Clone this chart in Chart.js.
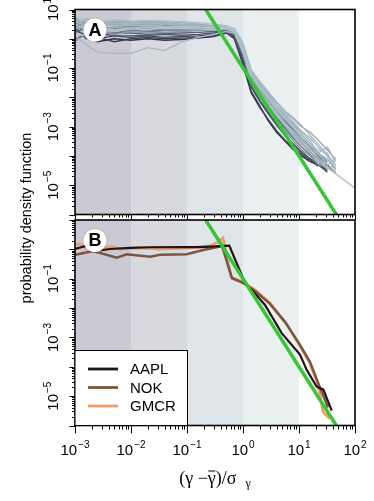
<!DOCTYPE html>
<html>
<head>
<meta charset="utf-8">
<script src="https://cdn.jsdelivr.net/npm/chart.js@4"></script>
<style>
  html, body { margin: 0; padding: 0; background: #fff; }
  #wrap { position: relative; width: 374px; height: 501px; }
  #wrap canvas { position: absolute; left: 0; top: 0; }
</style>
</head>
<body>
<div id="wrap">
  <canvas id="panelA" width="374" height="501"></canvas>
  <canvas id="panelB" width="374" height="501"></canvas>
</div>
<script>
/* Two stacked log-log density panels. Each panel is its own Chart on a
   full-size transparent canvas; the layout padding puts the plot box where
   the figure has it, and a small plugin draws the R-style frame, ticks and
   10^n labels (Chart.js can't do superscripts or per-tick lengths). */

// ---- shared axes / decoration data ----
var bandEdges = [1e-3, 1e-2, 1e-1, 1, 10, 100];
var bandColors = ["#cbc9d4", "#d8d9df", "#dfe5e8", "#ebf1f1", "#ffffff"];
var xTickExps = [-3, -2, -1, 0, 1, 2];
var yTickExpsA = [1, -1, -3, -5];
var yTickExpsB = [-1, -3, -5];

// power-law guide (green)
var fitX = [0.2, 50];
var fitY = [12.5, 8e-7];

// ---- panel A: many stocks, binned on a common grid ----
var binsA = [0.001, 0.0016, 0.0025, 0.005, 0.01, 0.02, 0.04, 0.08, 0.16, 0.3, 0.5, 0.7,
             1.0, 1.4, 2.0, 2.8, 4.0, 5.6, 8.0, 11, 16, 22, 32, 45, 100];

var stockA01 = [2.0, 1.26, 0.79, 1.0, 0.89, 1.0, 0.89, 0.95, 1.05, 1.2, 1.58, 1.12, 0.16, 0.016, 5e-3, 1.6e-3, 6.3e-4, 3.2e-4, 1.6e-4, 1e-4, 6.3e-5, 5e-5, 3.2e-5, null, null];
var stockA02 = [1.0, 1.41, 1.12, 0.79, 1.0, 1.12, 1.0, 1.05, 1.12, 1.26, 1.66, 1.0, 0.126, 0.014, 4.5e-3, 1.8e-3, 7.1e-4, 3.5e-4, 1.8e-4, 1.12e-4, 7.1e-5, 4.5e-5, null, null, null];
var stockA03 = [3.98, 1.58, 1.0, 1.26, 1.12, 1.26, 1.12, 1.2, 1.26, 1.41, 1.91, 1.26, 0.25, 0.025, 7.9e-3, 3.2e-3, 1.26e-3, 5e-4, 2.5e-4, 1.26e-4, 7.9e-5, 5e-5, null, null, null];
var stockA04 = [2.51, 1.0, 1.58, 1.26, 1.26, 1.32, 1.41, 1.32, 1.41, 1.58, 2.0, 1.32, 0.2, 0.022, 7.1e-3, 2.8e-3, 1.12e-3, 5e-4, 2.5e-4, 1.4e-4, 7.9e-5, 5e-5, 2.8e-5, null, null];
var stockA05 = [1.58, 2.51, 1.26, 1.58, 1.58, 1.41, 1.51, 1.58, 1.66, 1.78, 2.0, 1.41, 0.32, 0.04, 0.0126, 5e-3, 2e-3, 1e-3, 5e-4, 2.5e-4, 1.26e-4, 6.3e-5, 3.2e-5, null, null];
var stockA06 = [3.16, 2.0, 2.82, 2.0, 2.24, 2.0, 2.0, 2.09, 2.0, 2.0, 2.24, 1.58, 0.4, 0.05, 0.02, 7.9e-3, 3.2e-3, 1.6e-3, 7.9e-4, 4e-4, 2e-4, 1e-4, 5e-5, 2.5e-5, null];
var stockA07 = [2.82, 1.78, 2.51, 1.58, 2.0, 1.78, 1.91, 2.0, 2.0, 2.0, 2.14, 1.51, 0.28, 0.035, 0.0112, 4.5e-3, 2e-3, 8.9e-4, 4e-4, 2e-4, 1.12e-4, 6.3e-5, 4.5e-5, null, null];
var stockA08 = [2.51, 3.55, 2.0, 2.51, 2.63, 2.51, 2.82, 2.63, 2.51, 2.4, 2.24, 1.58, 0.5, 0.063, 0.025, 0.01, 4e-3, 2e-3, 1e-3, 5e-4, 2.5e-4, 1.26e-4, 6.3e-5, null, null];
var stockA09 = [5.01, 2.51, 1.58, 2.24, 2.0, 2.24, 2.0, 2.0, 2.24, 2.09, 2.4, 1.78, 0.32, 0.032, 0.01, 4e-3, 1.6e-3, 7.9e-4, 3.2e-4, 1.6e-4, 1e-4, 5e-5, 4e-5, null, null];
var stockA10 = [0.79, 1.58, 2.24, 1.41, 1.78, 1.58, 1.66, 1.78, 1.91, 2.0, 2.09, 1.66, 0.35, 0.045, 0.014, 5.6e-3, 2.5e-3, 1.12e-3, 5.6e-4, 2.8e-4, 1.4e-4, 7.9e-5, 4e-5, 2.8e-5, null];
var stockA11 = [3.55, 3.98, 3.16, 3.16, 3.16, 3.02, 3.16, 2.82, 2.63, 2.51, 2.4, 1.78, 0.45, 0.056, 0.018, 7.9e-3, 3.2e-3, 1.4e-3, 7.1e-4, 3.5e-4, 2e-4, 1.1e-4, 5.6e-5, null, null];
var stockA12 = [4.47, 3.16, 3.98, 3.55, 3.8, 3.55, 3.55, 3.16, 3.02, 2.82, 2.51, 2.0, 0.56, 0.079, 0.032, 0.014, 6.3e-3, 3.2e-3, 1.8e-3, 1e-3, 6.3e-4, 3.5e-4, 1.6e-4, 7.9e-5, null];
var stockA13 = [2.82, 5.01, 2.82, 3.98, 3.55, 3.98, 3.8, 3.55, 3.16, 2.82, 2.63, 1.91, 0.5, 0.063, 0.025, 0.01, 4.5e-3, 2.2e-3, 1.12e-3, 5e-4, 2.5e-4, 1.26e-4, 7.9e-5, 3.2e-5, null];
var stockA14 = [1.26, 0.63, 0.35, 0.32, 0.32, 0.5, 0.4, 0.79, 1.12, 1.41, 1.78, 1.58, 0.4, 0.05, 0.016, 6.3e-3, 2.8e-3, 1.26e-3, 6.3e-4, 3.2e-4, 1.6e-4, 1.26e-4, 5e-5, 7.9e-5, null];
var stockA15 = [2.24, 2.82, 4.47, 2.82, 3.16, 3.31, 3.16, 3.02, 2.82, 2.63, 2.51, 2.0, 0.63, 0.071, 0.028, 0.0126, 5e-3, 2.5e-3, 1.26e-3, 6.3e-4, 3.2e-4, 1.26e-4, 2e-4, 6.3e-5, null];
var stockA16 = [3.98, 2.24, 1.78, 2.51, 2.4, 2.51, 2.51, 2.4, 2.4, 2.24, 2.4, 1.91, 0.45, 0.056, 0.02, 8.9e-3, 3.5e-3, 1.8e-3, 8.9e-4, 4e-4, 1.8e-4, 8.9e-5, 3.5e-5, 5e-5, null];
var stockA17 = [3.98, 2.82, 3.16, 2.82, 2.82, 2.82, 2.63, 2.51, 2.4, 2.24, 2.24, 1.78, 0.63, 0.079, 0.028, 0.0112, 5e-3, 2.8e-3, 1.4e-3, 7.1e-4, 4e-4, 2e-4, 1e-4, 3.5e-5, null];
var stockA18 = [1.58, 1.26, 2.0, 1.78, 2.24, 2.0, 2.51, 2.63, 2.51, 2.4, 2.51, 2.0, 0.5, 0.063, 0.022, 0.01, 4e-3, 2e-3, 1e-3, 4.5e-4, 2.5e-4, 1.6e-4, 1.26e-4, 4e-5, null];
var stockA19 = [5.62, 3.98, 3.55, 4.47, 3.98, 4.17, 3.98, 3.8, 3.55, 3.16, 2.82, 2.24, 0.71, 0.089, 0.035, 0.016, 7.1e-3, 3.5e-3, 2e-3, 1.12e-3, 5e-4, 2.5e-4, 1.12e-4, 5e-5, null];
var stockA20 = [3.16, 2.0, 2.51, 2.0, 2.24, 2.4, 2.24, 2.24, 2.14, 2.0, 2.24, 1.78, 0.35, 0.04, 0.014, 6.3e-3, 2.5e-3, 1.12e-3, 5e-4, 2.5e-4, 1.26e-4, 6.3e-5, 4e-5, 2.5e-5, 7.9e-6];

// drawn in this order: darkest underneath, palest on top
var stocksA = [stockA01, stockA02, stockA03, stockA04, stockA05, stockA06, stockA07,
               stockA08, stockA09, stockA10, stockA11, stockA12, stockA13, stockA14,
               stockA15, stockA16, stockA17, stockA18, stockA19, stockA20];
var stockColorsA = ["#323448", "#3d4055", "#464b60", "#50576b", "#5a6376", "#646e80", "#6d788a",
                    "#778394", "#818e9d", "#8a98a6", "#93a2af", "#99aab5", "#a0b2bb", "#a9bbc2",
                    "#a3b6bf", "#9badb7", "#a6b8c0", "#b3c4ca", "#aabdc4", "#b0c2c8"];

// ---- panel B: three named stocks ----
var aaplX = [0.001, 0.00164, 0.00228, 0.00422, 0.0096, 0.0218, 0.075, 0.171, 0.316, 0.569, 1.09, 1.43, 2.47, 4.91, 10.4, 13.7, 20.7, 27.2, 38.4];
var aaplY = [1.03, 1.34, 0.88, 1.03, 1.12, 1.18, 1.2, 1.2, 1.26, 1.34, 0.070, 0.042, 0.0128, 1.4e-3, 2.6e-4, 7.9e-5, 2.1e-5, 1.66e-5, 3.2e-6];
var nokX = [0.001, 0.00212, 0.00556, 0.00838, 0.0218, 0.033, 0.099, 0.195, 0.422, 0.637, 1.0, 1.64, 3.03, 5.62, 10.4, 15.7, 23.7, 33];
var nokY = [0.65, 0.88, 0.52, 0.68, 0.56, 0.65, 0.68, 0.95, 1.31, 0.104, 0.072, 0.038, 0.0139, 3.4e-3, 5.6e-4, 1.48e-4, 1.95e-5, 4.1e-6];
var gmcrX = [0.001, 0.00123, 0.00185, 0.00279, 0.00452, 0.00637, 0.0145, 0.033, 0.113, 0.258, 0.358, 0.44, 0.611, 1.0, 1.64, 3.03, 6.11, 10.4, 15.7, 21.8, 26.9, 35.8];
var gmcrY = [1.41, 1.53, 0.95, 1.12, 1.24, 1.03, 1.12, 1.03, 1.12, 1.31, 1.79, 2.44, 0.115, 0.078, 0.042, 0.0150, 2.7e-3, 5.2e-4, 1.26e-4, 2.6e-5, 2.9e-6, 1.7e-6];
var stockNamesB = ["AAPL", "NOK", "GMCR"];
var stockColorsB = ["#1e1510", "#7a5541", "#f29d68"];
var fitColor = "#35c535";

var SANS = '"Liberation Sans", Arial, Helvetica, sans-serif';
var SERIF = '"Liberation Serif", "Times New Roman", serif';

function toPoints(xs, ys) {
  var out = [];
  for (var i = 0; i < xs.length; i++) {
    if (ys[i] != null) out.push({ x: xs[i], y: ys[i] });
  }
  return out;
}

function lineDataset(points, color, width) {
  return { data: points, borderColor: color, borderWidth: width, pointRadius: 0,
           tension: 0, fill: false, clip: 0 };
}

// "10" with a raised exponent, centred on (x, y) baseline
function drawPower(ctx, exp, x, y) {
  var sup = exp < 0 ? "\u2212" + (-exp) : String(exp);
  ctx.font = "15px " + SANS;
  var wBase = ctx.measureText("10").width;
  ctx.font = "10px " + SANS;
  var wSup = ctx.measureText(sup).width;
  var x0 = x - (wBase + 1 + wSup) / 2;
  ctx.textAlign = "left";
  ctx.textBaseline = "alphabetic";
  ctx.font = "15px " + SANS;
  ctx.fillText("10", x0, y);
  ctx.font = "10px " + SANS;
  ctx.fillText(sup, x0 + wBase + 1, y - 7);
}

function drawBands(chart) {
  var ctx = chart.ctx, a = chart.chartArea, xs = chart.scales.x;
  ctx.save();
  for (var i = 0; i < bandColors.length; i++) {
    var x0 = xs.getPixelForValue(bandEdges[i]);
    var x1 = xs.getPixelForValue(bandEdges[i + 1]);
    ctx.fillStyle = bandColors[i];
    ctx.fillRect(x0, a.top, x1 - x0, a.bottom - a.top);
  }
  ctx.restore();
}

function drawFrame(chart, o) {
  var ctx = chart.ctx, a = chart.chartArea, xs = chart.scales.x, ys = chart.scales.y;
  ctx.save();
  ctx.strokeStyle = "#000";
  ctx.fillStyle = "#000";

  // log ticks, majors on each decade
  ctx.lineWidth = 1;
  ctx.beginPath();
  for (var e = -6; e <= 1; e++) {
    for (var m = 1; m <= 9; m++) {
      var v = m * Math.pow(10, e);
      if (v > ys.max * 1.0001) break;
      var py = Math.round(ys.getPixelForValue(v)) + 0.5;
      var len = m === 1 ? o.yMajor : o.yMinor;
      ctx.moveTo(a.left - len, py);
      ctx.lineTo(a.left, py);
    }
  }
  for (var ex = -3; ex <= 2; ex++) {
    for (var mx = 1; mx <= 9; mx++) {
      var vx = mx * Math.pow(10, ex);
      if (vx > xs.max * 1.0001) break;
      var px = Math.round(xs.getPixelForValue(vx)) + 0.5;
      var lx = mx === 1 ? o.xMajor : o.xMinor;
      ctx.moveTo(px, a.bottom);
      ctx.lineTo(px, a.bottom + lx);
    }
  }
  ctx.stroke();

  ctx.lineWidth = 1.6;
  ctx.strokeRect(a.left, a.top, a.right - a.left, a.bottom - a.top);

  // y labels, rotated like R's las=0
  o.yExps.forEach(function (exp) {
    var py = ys.getPixelForValue(Math.pow(10, exp));
    ctx.save();
    ctx.translate(57.5, py);
    ctx.rotate(-Math.PI / 2);
    drawPower(ctx, exp, 0, 0);
    ctx.restore();
  });

  if (o.xLabels) {
    xTickExps.forEach(function (exp) {
      drawPower(ctx, exp, xs.getPixelForValue(Math.pow(10, exp)), 455);
    });
  }

  // panel letter badge
  ctx.beginPath();
  ctx.arc(95, a.top + 20.5, 11.5, 0, Math.PI * 2);
  ctx.fillStyle = "#ffffff";
  ctx.shadowColor = "rgba(0,0,0,0.25)";
  ctx.shadowBlur = 2;
  ctx.fill();
  ctx.shadowBlur = 0;
  ctx.fillStyle = "#000";
  ctx.font = "bold 18px " + SANS;
  ctx.textAlign = "center";
  ctx.textBaseline = "middle";
  ctx.fillText(o.letter, 95, a.top + 21.5);
  ctx.restore();
}

function drawLegend(chart) {
  var ctx = chart.ctx, a = chart.chartArea;
  var boxTop = 350.5, boxRight = 187.5;
  ctx.save();
  ctx.fillStyle = "#ffffff";
  ctx.fillRect(a.left, boxTop, boxRight - a.left, a.bottom - boxTop);
  ctx.strokeStyle = "#000";
  ctx.lineWidth = 1;
  ctx.strokeRect(a.left, boxTop, boxRight - a.left, a.bottom - boxTop);
  ctx.font = "15px " + SANS;
  ctx.textAlign = "left";
  ctx.textBaseline = "middle";
  stockNamesB.forEach(function (name, i) {
    var y = 369 + i * 18.5;
    ctx.strokeStyle = stockColorsB[i];
    ctx.lineWidth = 2.8;
    ctx.beginPath();
    ctx.moveTo(88, y);
    ctx.lineTo(118, y);
    ctx.stroke();
    ctx.fillStyle = "#000";
    ctx.fillText(name, 130, y + 1);
  });
  ctx.restore();
}

function drawTitles(chart) {
  var ctx = chart.ctx;
  ctx.save();
  ctx.fillStyle = "#000";
  // y title
  ctx.translate(31, 218);
  ctx.rotate(-Math.PI / 2);
  ctx.font = "14.5px " + SANS;
  ctx.textAlign = "center";
  ctx.textBaseline = "alphabetic";
  ctx.fillText("probability density function", 0, 0);
  ctx.restore();

  // x title: (γ − γ̄)/σ_γ
  ctx.save();
  ctx.fillStyle = "#000";
  ctx.strokeStyle = "#000";
  ctx.textAlign = "left";
  ctx.textBaseline = "alphabetic";
  var big = "18px " + SERIF, small = "12px " + SERIF;
  var parts = ["(\u03b3 \u2212", "\u03b3", ")/\u03c3  "];
  ctx.font = big;
  var w0 = ctx.measureText(parts[0]).width;
  var w1 = ctx.measureText(parts[1]).width;
  var w2 = ctx.measureText(parts[2]).width;
  ctx.font = small;
  var w3 = ctx.measureText("\u03b3").width;
  var total = w0 + w1 + w2 + w3;
  var x = 215 - total / 2, base = 484;
  ctx.font = big;
  ctx.fillText(parts[0], x, base);
  ctx.fillText(parts[1], x + w0, base);
  ctx.lineWidth = 1;
  ctx.beginPath();
  ctx.moveTo(x + w0 + 0.5, base - 13);
  ctx.lineTo(x + w0 + w1 - 0.5, base - 13);
  ctx.stroke();
  ctx.fillText(parts[2], x + w0 + w1, base);
  ctx.font = small;
  ctx.fillText("\u03b3", x + w0 + w1 + w2, base + 3);
  ctx.restore();
}

var panelDecor = {
  id: "panelDecor",
  beforeDatasetsDraw: function (chart) { drawBands(chart); },
  afterDatasetsDraw: function (chart, _args, opts) {
    drawFrame(chart, opts);
    if (opts.legend) drawLegend(chart);
    if (opts.titles) drawTitles(chart);
  },
};

function panelOptions(padding, decor) {
  return {
    responsive: false,
    animation: false,
    devicePixelRatio: 1,
    layout: { padding: padding },
    scales: {
      x: { type: "logarithmic", min: 1e-3, max: 1e2, display: false },
      y: { type: "logarithmic", min: 1e-6, max: 10, display: false },
    },
    plugins: { legend: { display: false }, tooltip: { enabled: false }, panelDecor: decor },
  };
}

// Chart.js paints dataset 0 last, so lists are built bottom-up then reversed.
var layersA = stocksA.map(function (ys, i) {
  return lineDataset(toPoints(binsA, ys), stockColorsA[i], 1.4);
});
layersA.push(lineDataset(toPoints(fitX, fitY), fitColor, 3.5));

new Chart(document.getElementById("panelA"), {
  type: "line",
  data: { datasets: layersA.reverse() },
  options: panelOptions({ left: 75, right: 19, top: 9.5, bottom: 286.5 },
    { letter: "A", yExps: yTickExpsA, xLabels: false, legend: false, titles: true,
      yMajor: 5.5, yMinor: 3, xMajor: 5, xMinor: 3 }),
  plugins: [panelDecor],
});

var layersB = [
  lineDataset(toPoints(gmcrX, gmcrY), stockColorsB[2], 2.8),
  lineDataset(toPoints(nokX, nokY), stockColorsB[1], 2.5),
  lineDataset(toPoints(aaplX, aaplY), stockColorsB[0], 2.2),
  lineDataset(toPoints(fitX, fitY), fitColor, 3.5),
];

new Chart(document.getElementById("panelB"), {
  type: "line",
  data: { datasets: layersB.reverse() },
  options: panelOptions({ left: 75, right: 19, top: 220, bottom: 75.5 },
    { letter: "B", yExps: yTickExpsB, xLabels: true, legend: true, titles: false,
      yMajor: 5.5, yMinor: 3, xMajor: 8, xMinor: 4 }),
  plugins: [panelDecor],
});
</script>
</body>
</html>
